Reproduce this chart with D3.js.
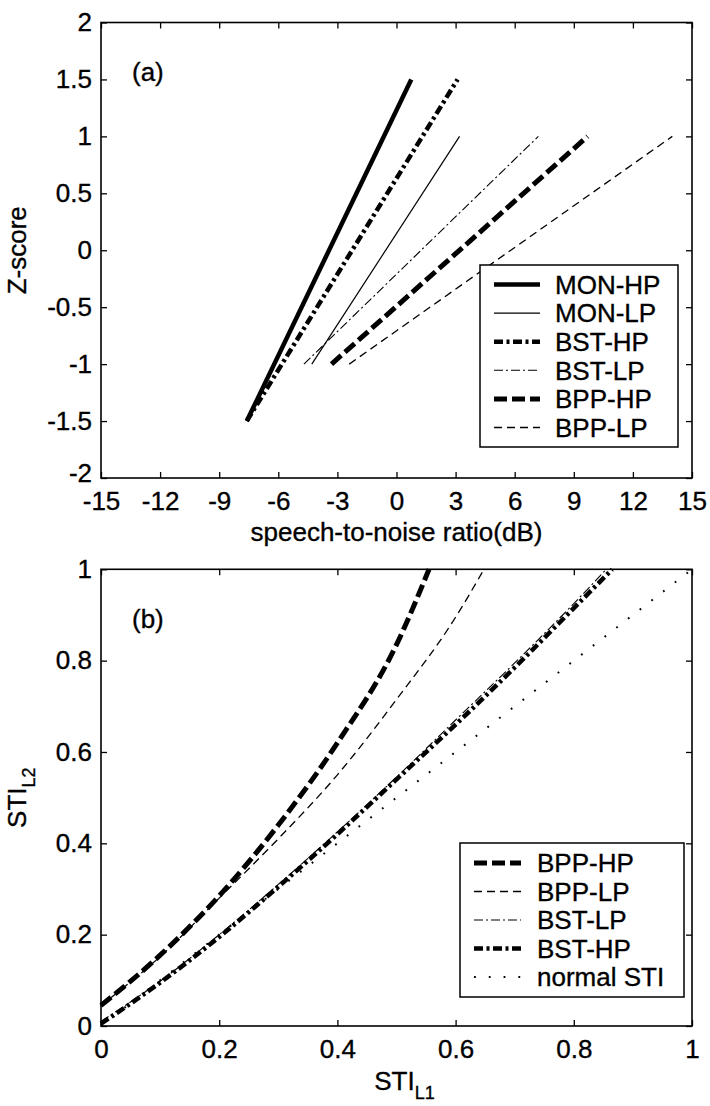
<!DOCTYPE html>
<html><head><meta charset="utf-8">
<script src="https://cdn.jsdelivr.net/npm/d3@7"></script>
<style>
body{margin:0;background:#fff}
text{font-family:"Liberation Sans",Arial,Helvetica,sans-serif;fill:#000;stroke:#000;stroke-width:0.35px}
</style>
</head><body>
<svg id="c" width="710" height="1106"></svg>
<script>
// ---------- Panel (a) data ----------
const snrTicks = [-15,-12,-9,-6,-3,0,3,6,9,12,15];
const zTicks = [-2,-1.5,-1,-0.5,0,0.5,1,1.5,2];
const seriesA = ["MON-HP","MON-LP","BST-HP","BST-LP","BPP-HP","BPP-LP"];
const monHP_snr = [-7.6, 0.75],  monHP_z = [-1.5, 1.5];
const monLP_snr = [-4.3, 3.2],   monLP_z = [-1, 1];
const bstHP_snr = [-7.6, 3.1],   bstHP_z = [-1.5, 1.5];
const bstLP_snr = [-4.7, 7.2],   bstLP_z = [-1, 1];
const bppHP_snr = [-3.3, 9.7],   bppHP_z = [-1, 1];
const bppLP_snr = [-2.4, 14.0],  bppLP_z = [-1, 1];

// ---------- Panel (b) data ----------
const stiTicks = [0,0.2,0.4,0.6,0.8,1];
const seriesB = ["BPP-HP","BPP-LP","BST-LP","BST-HP","normal STI"];
const bB_HP_x = [0,0.1,0.2,0.3,0.4,0.5,0.555];
const bB_HP_y = [0.045,0.155,0.285,0.44,0.62,0.835,1.0];
const bB_LP_x = [0,0.1,0.2,0.3,0.4,0.5,0.6,0.648];
const bB_LP_y = [0.045,0.152,0.28,0.41,0.55,0.715,0.895,1.0];
const bS_LP_x = [0,0.1,0.2,0.3,0.4,0.5,0.6,0.7,0.8,0.855];
const bS_LP_y = [0.01,0.098,0.2,0.31,0.425,0.545,0.67,0.795,0.925,1.0];
const bS_HP_x = [0,0.1,0.2,0.3,0.4,0.5,0.6,0.7,0.8,0.865];
const bS_HP_y = [0.005,0.095,0.195,0.305,0.42,0.54,0.66,0.785,0.915,1.0];
const normal_x = [0,1];
const normal_y = [0,1];

// ---------- styles ----------
const style = {
  "MON-HP": {w:4.5, dash:null},
  "MON-LP": {w:1.2, dash:null},
  "BST-HP": {w:4.5, dash:"9,3.5,3,3.5"},
  "BST-LP": {w:1.1, dash:"9,3,2,3"},
  "BPP-HP": {w:5, dash:"13,5"},
  "BPP-LP": {w:1.3, dash:"8,5"},
  "normal STI": {w:2, dash:"1.8,13"}
};

const svg = d3.select("#c");
const FS = 26;
const L = 101, R = 692;

function zip(xs, ys){ return xs.map((x,i)=>[x, ys[i]]); }

function frame(g, x, y, xt, yt, top, bottom){
  const fmt = d => String(d);
  g.append("g").attr("transform",`translate(0,${bottom})`)
    .call(d3.axisBottom(x).tickValues(xt).tickSize(-6).tickPadding(14).tickFormat(fmt));
  g.append("g").attr("transform",`translate(0,${top})`)
    .call(d3.axisTop(x).tickValues(xt).tickSize(-6).tickFormat(""));
  const ly = g.append("g").attr("transform",`translate(${L},0)`)
    .call(d3.axisLeft(y).tickValues(yt).tickSize(-6).tickPadding(9).tickFormat(fmt));
  g.append("g").attr("transform",`translate(${R},0)`)
    .call(d3.axisRight(y).tickValues(yt).tickSize(-6).tickFormat(""));
  g.selectAll(".domain").remove();
  g.selectAll(".tick line").attr("stroke","#000").attr("stroke-width",1.3);
  g.selectAll(".tick text").style("font-size",FS+"px").style("font-family",'"Liberation Sans",Arial,sans-serif').attr("fill","#000");
  // lowest y label sits just above the corner x label
  ly.selectAll(".tick text").filter(d => d === yt[0] && d !== 0).attr("y",-5);
  g.append("rect").attr("x",L).attr("y",top).attr("width",R-L).attr("height",bottom-top)
    .attr("fill","none").attr("stroke","#000").attr("stroke-width",1.6);
}

function drawLine(g, pts, name, x, y, curve){
  const s = style[name];
  const line = d3.line().x(d=>x(d[0])).y(d=>y(d[1])).curve(curve||d3.curveLinear);
  const p = g.append("path").datum(pts).attr("d",line).attr("fill","none")
    .attr("stroke","#000").attr("stroke-width",s.w).attr("stroke-linecap","butt");
  if (s.dash) p.attr("stroke-dasharray",s.dash);
}

function legend(g, names, x0, y0, w, rowH, padTop, sampleX0, sampleX1, textX){
  const h = padTop*2 + rowH*(names.length-1);
  g.append("rect").attr("x",x0).attr("y",y0).attr("width",w).attr("height",h)
    .attr("fill","#fff").attr("stroke","#000").attr("stroke-width",1.5);
  names.forEach((n,i)=>{
    const cy = y0 + padTop + i*rowH;
    const s = style[n];
    const l = g.append("line").attr("x1",sampleX0).attr("x2",sampleX1).attr("y1",cy).attr("y2",cy)
      .attr("stroke","#000").attr("stroke-width",s.w);
    if (s.dash) l.attr("stroke-dasharray",s.dash);
    g.append("text").attr("x",textX).attr("y",cy).attr("dy","0.36em").style("font-size",FS+"px").text(n);
  });
}

// ---------- Panel (a) ----------
const topA = 22.5, botA = 478;
const xA = d3.scaleLinear().domain([-15,15]).range([L,R]);
const yA = d3.scaleLinear().domain([-2,2]).range([botA,topA]);
const gA = svg.append("g");
frame(gA, xA, yA, snrTicks, zTicks, topA, botA);
const linesA = {
  "MON-HP": zip(monHP_snr, monHP_z), "MON-LP": zip(monLP_snr, monLP_z),
  "BST-HP": zip(bstHP_snr, bstHP_z), "BST-LP": zip(bstLP_snr, bstLP_z),
  "BPP-HP": zip(bppHP_snr, bppHP_z), "BPP-LP": zip(bppLP_snr, bppLP_z)
};
seriesA.forEach(n=>drawLine(gA, linesA[n], n, xA, yA));
legend(gA, seriesA, 480, 265, 198, 28.6, 19.5, 494, 540, 555);
gA.append("text").attr("x",132).attr("y",81).style("font-size",FS+"px").text("(a)");
gA.append("text").attr("x",(L+R)/2).attr("y",541).attr("text-anchor","middle").style("font-size",FS+"px").text("speech-to-noise ratio(dB)");
gA.append("text").attr("transform",`translate(26,${(topA+botA)/2}) rotate(-90)`).attr("text-anchor","middle").style("font-size",FS+"px").text("Z-score");

// ---------- Panel (b) ----------
const topB = 569.3, botB = 1026;
const xB = d3.scaleLinear().domain([0,1]).range([L,R]);
const yB = d3.scaleLinear().domain([0,1]).range([botB,topB]);
const gB = svg.append("g");
frame(gB, xB, yB, stiTicks, stiTicks, topB, botB);
const linesB = {
  "BPP-HP": zip(bB_HP_x, bB_HP_y), "BPP-LP": zip(bB_LP_x, bB_LP_y),
  "BST-LP": zip(bS_LP_x, bS_LP_y), "BST-HP": zip(bS_HP_x, bS_HP_y),
  "normal STI": zip(normal_x, normal_y)
};
["normal STI","BST-HP","BST-LP","BPP-LP","BPP-HP"].forEach(n=>drawLine(gB, linesB[n], n, xB, yB, d3.curveMonotoneX));
legend(gB, seriesB, 460, 843, 224, 28.5, 20, 474, 521, 537);
gB.append("text").attr("x",132).attr("y",628).style("font-size",FS+"px").text("(b)");
const xl = gB.append("text").attr("x",(L+R)/2+8).attr("y",1090).attr("text-anchor","middle").style("font-size",FS+"px");
xl.append("tspan").text("STI");
xl.append("tspan").attr("dy",9).style("font-size","18px").text("L1");
const yl = gB.append("text").attr("transform",`translate(26,${(topB+botB)/2}) rotate(-90)`).attr("text-anchor","middle").style("font-size",FS+"px");
yl.append("tspan").text("STI");
yl.append("tspan").attr("dy",9).style("font-size","18px").text("L2");
</script>
</body></html>
